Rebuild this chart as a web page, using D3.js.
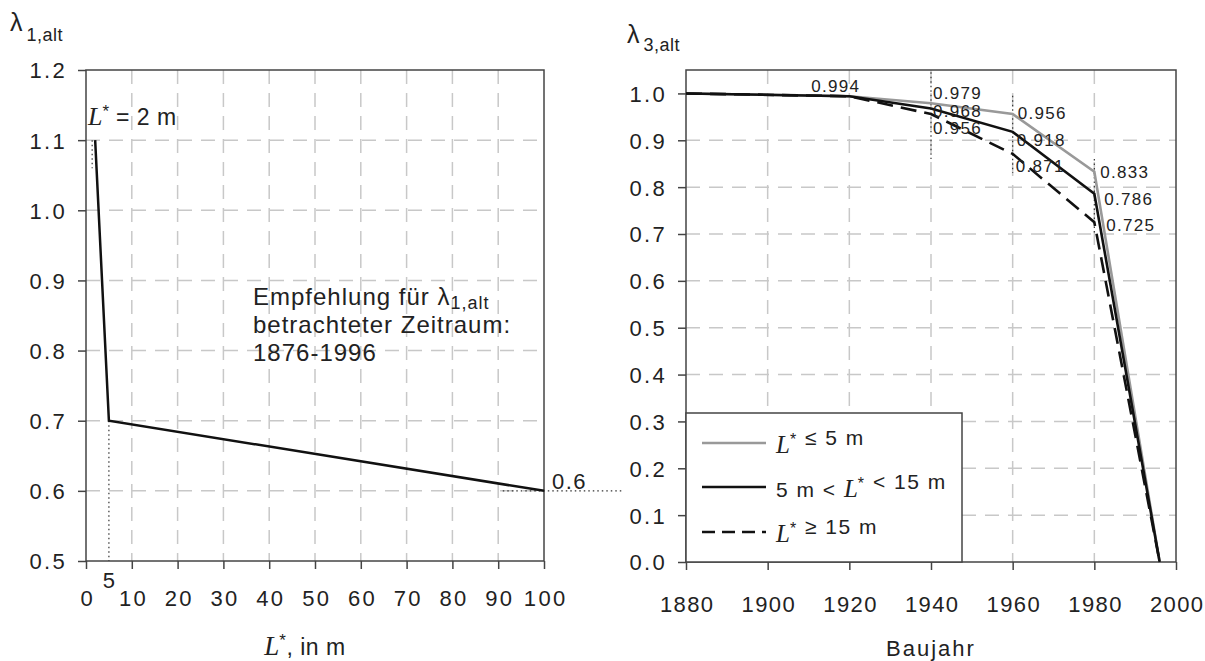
<!DOCTYPE html>
<html>
<head>
<meta charset="utf-8">
<script src="https://cdn.jsdelivr.net/npm/d3@7"></script>
<style>
  body { margin: 0; background: #fff; }
  svg text { font-family: "Liberation Sans", Arial, sans-serif; fill: #222; }
  .serif { font-family: "Liberation Serif", "Times New Roman", serif; font-style: italic; letter-spacing: 0; }
</style>
</head>
<body>
<div id="chart-area"></div>
<script>
// left panel
const lenValues = [2, 5, 100];
const lambda1 = [1.1, 0.7, 0.6];
const leftXTicks = [0, 10, 20, 30, 40, 50, 60, 70, 80, 90, 100];
const leftYTicks = [0.5, 0.6, 0.7, 0.8, 0.9, 1.0, 1.1, 1.2];

// right panel
const years = [1880, 1920, 1940, 1960, 1980, 1996];
const lamShort = [1.0, 0.994, 0.979, 0.956, 0.833, 0.0];
const lamMid = [1.0, 0.994, 0.968, 0.918, 0.786, 0.0];
const lamLong = [1.0, 0.994, 0.956, 0.871, 0.725, 0.0];
const rightXTicks = [1880, 1900, 1920, 1940, 1960, 1980, 2000];
const rightYTicks = [0, 0.1, 0.2, 0.3, 0.4, 0.5, 0.6, 0.7, 0.8, 0.9, 1.0];

const svg = d3.select("#chart-area").append("svg")
  .attr("width", 1205)
  .attr("height", 661);

const axisColor = "#444";
const gridColor = "#c8c8c8";

function frame(g, x, y, xTicks, yTicks, yFmt, xPad, xSpacing) {
  const [x0, x1] = x.range();
  const [y0, y1] = y.range();
  // grid
  g.selectAll(".vgrid").data(xTicks.slice(1, -1)).enter().append("line")
    .attr("x1", d => x(d)).attr("x2", d => x(d))
    .attr("y1", y1).attr("y2", y0)
    .attr("stroke", gridColor).attr("stroke-width", 1.5)
    .attr("stroke-dasharray", "14,9");
  g.selectAll(".hgrid").data(yTicks.slice(1, -1)).enter().append("line")
    .attr("x1", x0).attr("x2", x1)
    .attr("y1", d => y(d)).attr("y2", d => y(d))
    .attr("stroke", gridColor).attr("stroke-width", 1.5)
    .attr("stroke-dasharray", "14,9");
  // box
  g.append("rect")
    .attr("x", x0).attr("y", y1)
    .attr("width", x1 - x0).attr("height", y0 - y1)
    .attr("fill", "none").attr("stroke", axisColor).attr("stroke-width", 1.5);

  const ax = g.append("g")
    .attr("transform", `translate(0,${y0})`)
    .call(d3.axisBottom(x).tickValues(xTicks).tickSize(8).tickPadding(xPad).tickFormat(d3.format("d")));
  const ay = g.append("g")
    .attr("transform", `translate(${x0},0)`)
    .call(d3.axisLeft(y).tickValues(yTicks).tickSize(8).tickPadding(11).tickFormat(yFmt));
  [ax, ay].forEach(a => {
    a.select(".domain").remove();
    a.selectAll("line").attr("stroke", axisColor).attr("stroke-width", 1.5);
    a.selectAll("text")
      .style("font-family", "'Liberation Sans', Arial, sans-serif")
      .style("font-size", "22px").style("letter-spacing", "2.3px").attr("fill", "#222");
  });
  ax.selectAll("text").style("letter-spacing", xSpacing + "px").attr("dx", (xSpacing / 2) + "px");
  ay.selectAll("text").attr("dy", "0.36em");
}

// ---------- left ----------
const gl = svg.append("g");
const xL = d3.scaleLinear().domain([0, 100]).range([86, 544]);
const yL = d3.scaleLinear().domain([0.5, 1.2]).range([561, 70]);
frame(gl, xL, yL, leftXTicks, leftYTicks, d3.format(".1f"), 21, 2.3);

// dotted helpers
gl.append("line")
  .attr("x1", xL(5)).attr("x2", xL(5))
  .attr("y1", yL(0.7)).attr("y2", yL(0.5))
  .attr("stroke", "#333").attr("stroke-dasharray", "1.5,3").attr("stroke-width", 1.2);
gl.append("line")
  .attr("x1", xL(91)).attr("x2", 622)
  .attr("y1", yL(0.6)).attr("y2", yL(0.6))
  .attr("stroke", "#333").attr("stroke-dasharray", "1.5,3").attr("stroke-width", 1.2);
gl.append("line")
  .attr("x1", xL(2) - 3).attr("x2", xL(2) - 3)
  .attr("y1", yL(1.1)).attr("y2", yL(1.06))
  .attr("stroke", "#333").attr("stroke-dasharray", "1.5,3").attr("stroke-width", 1.2);

const leftPts = lenValues.map((v, i) => [v, lambda1[i]]);
gl.append("path")
  .datum(leftPts)
  .attr("fill", "none").attr("stroke", "#111").attr("stroke-width", 2.5)
  .attr("d", d3.line().x(d => xL(d[0])).y(d => yL(d[1])));

gl.append("text").attr("x", xL(5)).attr("y", 588)
  .attr("text-anchor", "middle").style("font-size", "22px").text("5");
gl.append("text").attr("x", 552).attr("y", 489)
  .style("font-size", "22px").style("letter-spacing", "1.5px").text("0.6");

const l2 = gl.append("text").attr("x", 88).attr("y", 125).style("font-size", "23px");
l2.append("tspan").attr("class", "serif").style("font-size", "26px").text("L");
l2.append("tspan").attr("dy", -8).style("font-size", "17px").text("*");
l2.append("tspan").attr("dy", 8).style("letter-spacing", "0.5px").text(" = 2 m");

const note = gl.append("text").style("font-size", "24px").style("letter-spacing", "1px");
const n1 = note.append("tspan").attr("x", 253).attr("y", 305).text("Empfehlung für λ");
n1.append("tspan").attr("dy", 4).style("font-size", "18px").text("1,alt");
note.append("tspan").attr("x", 253).attr("y", 333).text("betrachteter Zeitraum:");
note.append("tspan").attr("x", 253).attr("y", 361).text("1876-1996");

const yt1 = gl.append("text").attr("x", 10).attr("y", 31).style("font-size", "25px");
yt1.append("tspan").text("λ");
yt1.append("tspan").attr("dx", 4).attr("dy", 10).style("font-size", "18px").style("letter-spacing", "0.5px").text("1,alt");

const xt1 = gl.append("text").attr("x", 305).attr("y", 655)
  .attr("text-anchor", "middle").style("font-size", "23px").style("letter-spacing", "0.5px");
xt1.append("tspan").attr("class", "serif").style("font-size", "27px").text("L");
xt1.append("tspan").attr("dy", -9).style("font-size", "17px").text("*");
xt1.append("tspan").attr("dy", 9).text(", in m");

// ---------- right ----------
const gr = svg.append("g");
const xR = d3.scaleLinear().domain([1880, 2000]).range([686, 1176]);
const yR = d3.scaleLinear().domain([0, 1.05]).range([562, 70]);
frame(gr, xR, yR, rightXTicks, rightYTicks, d3.format(".1f"), 26, 1.4);

// dotted verticals at the breakpoints
const dots = [[1940, 1.045, 0.86], [1960, 0.995, 0.83], [1980, 0.86, 0.70]];
gr.selectAll(".dotv").data(dots).enter().append("line")
  .attr("x1", d => xR(d[0])).attr("x2", d => xR(d[0]))
  .attr("y1", d => yR(d[1])).attr("y2", d => yR(d[2]))
  .attr("stroke", "#333").attr("stroke-dasharray", "1.5,3").attr("stroke-width", 1.2);

const seriesR = [
  { name: "short", vals: lamShort, color: "#999", dash: null },
  { name: "mid", vals: lamMid, color: "#111", dash: null },
  { name: "long", vals: lamLong, color: "#111", dash: "16,8" }
];
const lineR = d3.line().x(d => xR(d[0])).y(d => yR(d[1]));
gr.selectAll(".series").data(seriesR).enter().append("path")
  .attr("fill", "none")
  .attr("stroke", d => d.color)
  .attr("stroke-width", 2.6)
  .attr("stroke-dasharray", d => d.dash)
  .attr("d", d => lineR(years.map((y, i) => [y, d.vals[i]])));

// value labels
const valLabels = [
  [1920, 0.994, -38],
  [1940, 0.979, 2], [1940, 0.968, 2], [1940, 0.956, 2],
  [1960, 0.956, 5], [1960, 0.918, 4], [1960, 0.871, 3],
  [1980, 0.833, 6], [1980, 0.786, 10], [1980, 0.725, 12]
];
const labelY = [92, 99, 117, 134, 119, 146, 172, 178, 205, 231];
gr.selectAll(".vl").data(valLabels).enter().append("text")
  .attr("x", d => xR(d[0]) + d[2])
  .attr("y", (d, i) => labelY[i])
  .style("font-size", "17px").style("letter-spacing", "1.3px")
  .text(d => d3.format(".3f")(d[1]));

// legend
const lg = gr.append("g");
lg.append("rect").attr("x", 686).attr("y", 413).attr("width", 276).attr("height", 149)
  .attr("fill", "#fff").attr("stroke", axisColor).attr("stroke-width", 1.5);
const legY = [443, 487, 532];
seriesR.forEach((s, i) => {
  lg.append("line").attr("x1", 702).attr("x2", 766)
    .attr("y1", legY[i]).attr("y2", legY[i])
    .attr("stroke", s.color).attr("stroke-width", 2.6)
    .attr("stroke-dasharray", s.dash ? "13,7" : null);
});
function legText(i, parts) {
  const t = lg.append("text").attr("x", 776).attr("y", legY[i] + 10)
    .style("font-size", "21px").style("letter-spacing", "1.5px");
  parts.forEach(p => {
    if (p === "L") {
      t.append("tspan").attr("class", "serif").style("font-size", "25px").text("L");
      t.append("tspan").attr("dy", -8).style("font-size", "16px").text("*");
      t.append("tspan").attr("dy", 8).text("");
    } else {
      t.append("tspan").text(p);
    }
  });
}
legText(0, ["L", " ≤ 5 m"]);
legText(1, ["5 m < ", "L", " < 15 m"]);
legText(2, ["L", " ≥ 15 m"]);

const yt3 = gr.append("text").attr("x", 627).attr("y", 43).style("font-size", "25px");
yt3.append("tspan").text("λ");
yt3.append("tspan").attr("dx", 4).attr("dy", 8).style("font-size", "18px").style("letter-spacing", "0.5px").text("3,alt");

gr.append("text").attr("x", 931).attr("y", 656)
  .attr("text-anchor", "middle").style("font-size", "22px").style("letter-spacing", "2px")
  .text("Baujahr");
</script>
</body>
</html>
